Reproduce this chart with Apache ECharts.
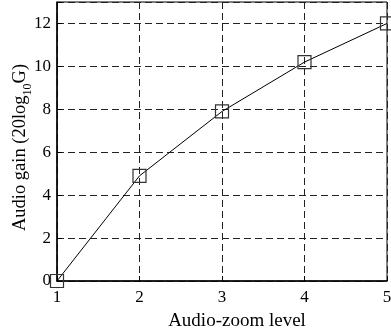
<!DOCTYPE html>
<html>
<head>
<meta charset="utf-8">
<script src="https://cdn.jsdelivr.net/npm/echarts@6/dist/echarts.min.js"></script>
<style>html,body{margin:0;padding:0;background:#fff;}#c{width:391px;height:336px;}</style>
</head>
<body>
<div id="c"></div>
<script>
var zoomLevels = [1, 2, 3, 4, 5];
var audioGain = [0, 4.9, 7.9, 10.2, 12];
var xTicks = [1, 2, 3, 4, 5];
var yTicks = [0, 2, 4, 6, 8, 10, 12];

var chart = echarts.init(document.getElementById('c'));
var font = 'Liberation Serif';
chart.setOption({
  animation: false,
  backgroundColor: '#fff',
  grid: { left: 57, right: 4, top: 2, bottom: 55, outerBoundsMode: 'none', containLabel: false,
    show: true, borderColor: '#000', borderWidth: 1, backgroundColor: 'transparent' },
  xAxis: {
    type: 'value', min: 1, max: 5, interval: 1,
    name: 'Audio-zoom level', nameLocation: 'middle', nameGap: 31, nameMoveOverlap: false,
    nameTextStyle: { fontFamily: font, fontSize: 19, color: '#000', padding: [0, 0, 0, 30] },
    axisLine: { show: true, lineStyle: { color: '#000', width: 1.5 } },
    axisTick: { show: true, inside: true, length: 5, lineStyle: { color: '#000' } },
    axisLabel: { fontFamily: font, fontSize: 17, color: '#000', margin: 8,
      formatter: function (v) { return xTicks.indexOf(v) >= 0 ? String(v) : ''; } },
    splitLine: { show: true, lineStyle: { color: '#222', type: [7, 4], width: 1 } }
  },
  yAxis: {
    type: 'value', min: 0, max: 13, interval: 2,
    name: '{a|Audio gain (20log}{s|10}{a|G)}', nameLocation: 'middle', nameGap: 27, nameMoveOverlap: false,
    nameTextStyle: { fontFamily: font, fontSize: 18.5, color: '#000', padding: [0, 12, 0, 0],
      rich: { a: { fontFamily: font, fontSize: 18.5, color: '#000', lineHeight: 18, verticalAlign: 'bottom' },
              s: { fontFamily: font, fontSize: 12, color: '#000', lineHeight: 12, verticalAlign: 'bottom', padding: [0,0,-4,0] } } },
    axisLine: { show: true, lineStyle: { color: '#000', width: 1.5 } },
    axisTick: { show: true, inside: true, length: 5, lineStyle: { color: '#000' } },
    axisLabel: { fontFamily: font, fontSize: 17, color: '#000', margin: 6,
      formatter: function (v) { return yTicks.indexOf(v) >= 0 ? String(v) : ''; } },
    splitLine: { show: true, lineStyle: { color: '#222', type: [7, 4], width: 1 } }
  },
  series: [{
    type: 'line',
    data: zoomLevels.map(function (x, i) { return [x, audioGain[i]]; }),
    symbol: 'rect', symbolSize: 13, showAllSymbol: true,
    lineStyle: { color: '#000', width: 1 },
    itemStyle: { color: 'rgba(0,0,0,0)', borderColor: '#333', borderWidth: 1.2 },
    clip: false
  }]
});
</script>
</body>
</html>
